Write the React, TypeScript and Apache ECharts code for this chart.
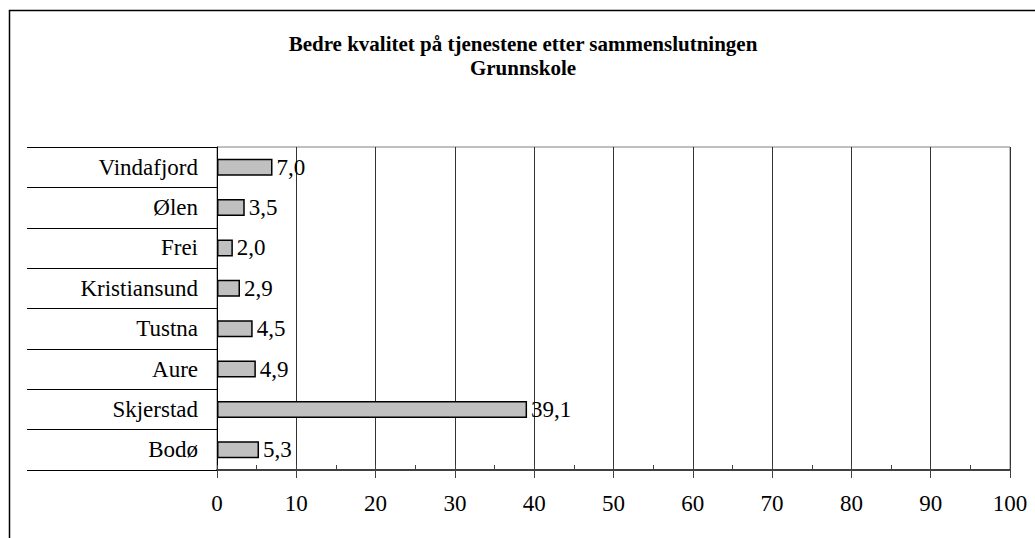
import React, { useEffect, useRef } from "react";
import * as echarts from "echarts";

const categories = ["Bodø", "Skjerstad", "Aure", "Tustna", "Kristiansund", "Frei", "Ølen", "Vindafjord"];
const values = [5.3, 39.1, 4.9, 4.5, 2.9, 2.0, 3.5, 7.0];
const titleLines = ["Bedre kvalitet på tjenestene etter sammenslutningen", "Grunnskole"];
const xMin = 0;
const xMax = 100;
const xStep = 10;

const FONT = "Times New Roman";

export default function App() {
  const ref = useRef<HTMLDivElement>(null);
  useEffect(() => {
    if (!ref.current) return;
    const chart = echarts.init(ref.current, null, { renderer: "svg" });
    chart.setOption({
      animation: false,
      backgroundColor: "#ffffff",
      textStyle: { fontFamily: FONT },
      title: {
        text: titleLines.join("\n"),
        left: 518,
        textAlign: "center",
        top: 27,
        textStyle: { fontFamily: FONT, fontSize: 21, fontWeight: "bold", color: "#000", lineHeight: 24 },
      },
      graphic: [
        {
          type: "rect",
          shape: { x: 9.5, y: 10.5, width: 1100, height: 600 },
          style: { fill: "none", stroke: "#000", lineWidth: 1.5 },
          silent: true,
        },
      ],
      grid: {
        left: 217,
        right: 25,
        top: 147,
        bottom: 68,
        show: true,
        borderColor: "#808080",
        borderWidth: 1,
      },
      xAxis: [
        {
          type: "value",
          min: xMin,
          max: xMax,
          interval: xStep,
          axisLine: { show: true, lineStyle: { color: "#404040", width: 2 } },
          axisTick: { show: true, inside: false, length: 8, lineStyle: { color: "#404040", width: 1 } },
          axisLabel: { margin: 22, fontFamily: FONT, fontSize: 23, color: "#000" },
          splitLine: { show: true, lineStyle: { color: "#333", width: 1 } },
        },
        {
          type: "value",
          min: xMin,
          max: xMax,
          interval: xStep / 2,
          position: "bottom",
          axisLine: { show: false },
          axisTick: { show: true, inside: true, length: 5, lineStyle: { color: "#404040", width: 1 } },
          axisLabel: { show: false },
          splitLine: { show: false },
        },
      ],
      yAxis: {
        type: "category",
        data: categories,
        axisLine: { show: true, lineStyle: { color: "#000", width: 1 } },
        axisTick: { show: true, inside: false, length: 190, alignWithLabel: false, lineStyle: { color: "#000", width: 1 } },
        axisLabel: { margin: 19, fontFamily: FONT, fontSize: 23, color: "#000" },
        splitLine: { show: false },
      },
      series: [
        {
          type: "bar",
          data: values,
          barWidth: 17,
          itemStyle: { color: "#c0c0c0", borderColor: "#000", borderWidth: 1.5 },
          label: {
            show: true,
            position: "right",
            distance: 4,
            fontFamily: FONT,
            fontSize: 23,
            color: "#000",
            formatter: (p: any) => Number(p.value).toFixed(1).replace(".", ","),
          },
        },
      ],
    });
    return () => chart.dispose();
  }, []);
  return <div ref={ref} style={{ position: "fixed", left: 0, top: 0, width: 1035, height: 538 }} />;
}
